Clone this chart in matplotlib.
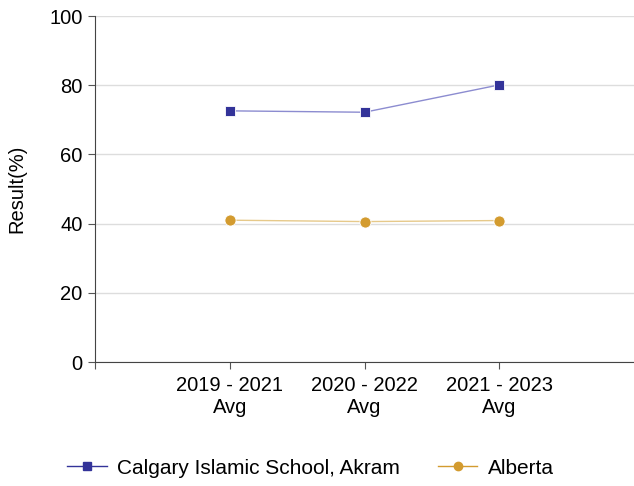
import matplotlib.pyplot as plt

plt.rcParams['font.family'] = ['Liberation Sans', 'DejaVu Sans']

# Data
categories = ["2019 - 2021\nAvg", "2020 - 2022\nAvg", "2021 - 2023\nAvg"]
school = [72.6, 72.2, 80.1]
alberta = [41.0, 40.6, 40.9]

fig = plt.figure(figsize=(6.34, 4.86), dpi=100)
ax = fig.add_axes([0.15, 0.255, 0.85, 0.712])

x = list(range(len(categories)))

# lines (lighter) then markers
ax.plot(x, school, color='#8c8cd0', lw=1, zorder=3)
ax.plot(x, school, ls='none', marker='s', ms=7.5, color='#333399',
        mec='#ffffff', mew=0.6, zorder=4)
ax.plot(x, alberta, color='#e6c98a', lw=1, zorder=3)
ax.plot(x, alberta, ls='none', marker='o', ms=8, color='#d39b2f',
        mec='#ffffff', mew=0.6, zorder=4)

ax.set_xlim(-1, 3)
ax.set_ylim(0, 100)
ax.set_yticks(range(0, 101, 20))
ax.set_xticks([-1] + x)
ax.set_xticklabels([''] + categories, fontsize=14.5)
ax.tick_params(axis='y', labelsize=14.5, length=5, color='#555555', pad=4)
ax.tick_params(axis='x', length=5, color='#555555', pad=5)
ax.set_ylabel("Result(%)", fontsize=14.5)
ax.yaxis.set_label_coords(-0.128, 0.5)

ax.grid(axis='y', color='#dddddd', lw=1)
ax.set_axisbelow(True)
for s in ['top', 'right']:
    ax.spines[s].set_visible(False)
for s in ['left', 'bottom']:
    ax.spines[s].set_color('#444444')

# legend
h1, = ax.plot([], [], color='#333399', lw=1, marker='s', ms=6)
h2, = ax.plot([], [], color='#d39b2f', lw=1, marker='o', ms=6)
fig.legend([h1, h2], ["Calgary Islamic School, Akram", "Alberta"],
           loc='center', bbox_to_anchor=(0.49, 0.037), ncol=2, frameon=False,
           fontsize=15, handlelength=1.9, handletextpad=0.5, columnspacing=1.8)

fig.savefig("out.png", dpi=100)
